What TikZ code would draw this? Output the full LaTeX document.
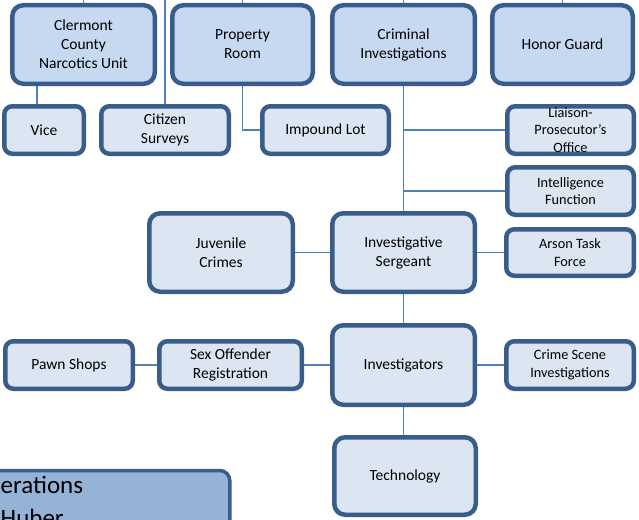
\documentclass[tikz,border=0pt]{standalone}
\usepackage{fontspec}
\setmainfont{Carlito}
\usetikzlibrary{backgrounds}
\definecolor{boxline}{HTML}{385D8A}
\definecolor{boxtop}{HTML}{C6D9F1}
\definecolor{boxlow}{HTML}{DCE6F2}
\definecolor{boxops}{HTML}{95B3D7}
\definecolor{linkblue}{HTML}{4F81BD}

\begin{document}
\begin{tikzpicture}[
          x = 1pt, y = -1pt,
          every node/.style = {inner sep = 0, align = center, font = \fontsize{15.5}{19}\selectfont},
          link/.style = {draw = linkblue, line width = 1.6pt}
        ]
          \tikzstyle {bigbox} = [draw = boxline, line width = 4.5pt, rounded corners = 11pt, fill = boxlow, minimum width = 142.5pt, minimum height = 78.5pt]
          \tikzstyle {smallbox} = [bigbox, rounded corners = 8pt, minimum width = 127.5pt, minimum height = 47.5pt]
          \tikzstyle {topbox} = [bigbox, fill = boxtop]
          \tikzstyle {tinytext} = [font = \fontsize{14.3}{17.5}\selectfont]
          \useasboundingbox (0,0) rectangle (639,519);
          \clip (0,0) rectangle (639,519);
          \coordinate (edge) at (0,0);
          % place nodes
          \path node (0) [topbox] at (83.5,44.5) {Clermont\\County\\Narcotics Unit};
          \path node (1) [topbox, minimum width = 140.5pt] at (242.5,44.5) {Property\\Room};
          \path node (2) [topbox] at (403.5,44.5) {Criminal\\Investigations};
          \path node (3) [topbox, minimum width = 140.5pt] at (562.5,44.5) {Honor Guard};
          \path node (4) [smallbox, minimum width = 79.5pt] at (44,130) {Vice};
          \path node (5) [smallbox] at (165,130) {Citizen\\Surveys};
          \path node (6) [smallbox, minimum width = 126.5pt] at (325.5,130) {Impound Lot};
          \path node (7) [smallbox, tinytext, minimum width = 126.5pt, inner ysep = -3pt] at (570.5,130) {Liaison-\\Prosecutor's\\Office};
          \path node (8) [smallbox, tinytext, minimum width = 126.5pt] at (570.5,191) {Intelligence\\Function};
          \path node (9) [bigbox, minimum width = 143.5pt] at (221,252.5) {Juvenile\\Crimes};
          \path node (10) [bigbox] at (403.5,252.5) {Investigative\\Sergeant};
          \path node (11) [smallbox, tinytext, minimum height = 46.5pt] at (570,252.5) {Arson Task\\Force};
          \path node (12) [bigbox, minimum height = 79.5pt] at (403.5,365) {Investigators};
          \path node (13) [smallbox] at (69,365) {Pawn Shops};
          \path node (14) [smallbox, minimum width = 142.5pt] at (230.5,365) {Sex Offender\\Registration};
          \path node (15) [smallbox, tinytext] at (570,365) {Crime Scene\\Investigations};
          \path node (16) [bigbox, minimum width = 141.5pt, minimum height = 77.5pt] at (405,476) {Technology};
          \path node (17) [draw = boxline, line width = 3.5pt, rounded corners = 10pt, fill = boxops,
                           minimum width = 270pt, minimum height = 100pt, anchor = north west] at (-42,468.75) {};
          \path node (18) [font = \fontsize{25}{30}\selectfont, anchor = base west] at (0.5,493) {erations};
          \path node (19) [font = \fontsize{25}{30}\selectfont, anchor = base west] at (0.5,526) {Huber};
          % place edges
          \begin{scope}[on background layer]
            \foreach \x in {0, 1, 2, 3, 5}
              { \draw [link] (\x.north) -- (\x.north |- edge) ; } ;
            \foreach \a/\b in {2/10, 9/10, 10/11, 10/12, 13/14, 14/12, 12/15}
              { \draw [link] (\a) -- (\b) ; } ;
            \foreach \x in {7, 8}
              { \draw [link] (2.south |- \x.west) -- (\x.west) ; } ;
            \draw [link] ([xshift=-7pt]4.north) -- ([xshift=-7pt]4.north |- 0.south);
            \draw [link] (1.south) |- (6.west);
            \draw [link] (12.south) -- (12.south |- 16.north);
          \end{scope}
        \end{tikzpicture}
\end{document}
